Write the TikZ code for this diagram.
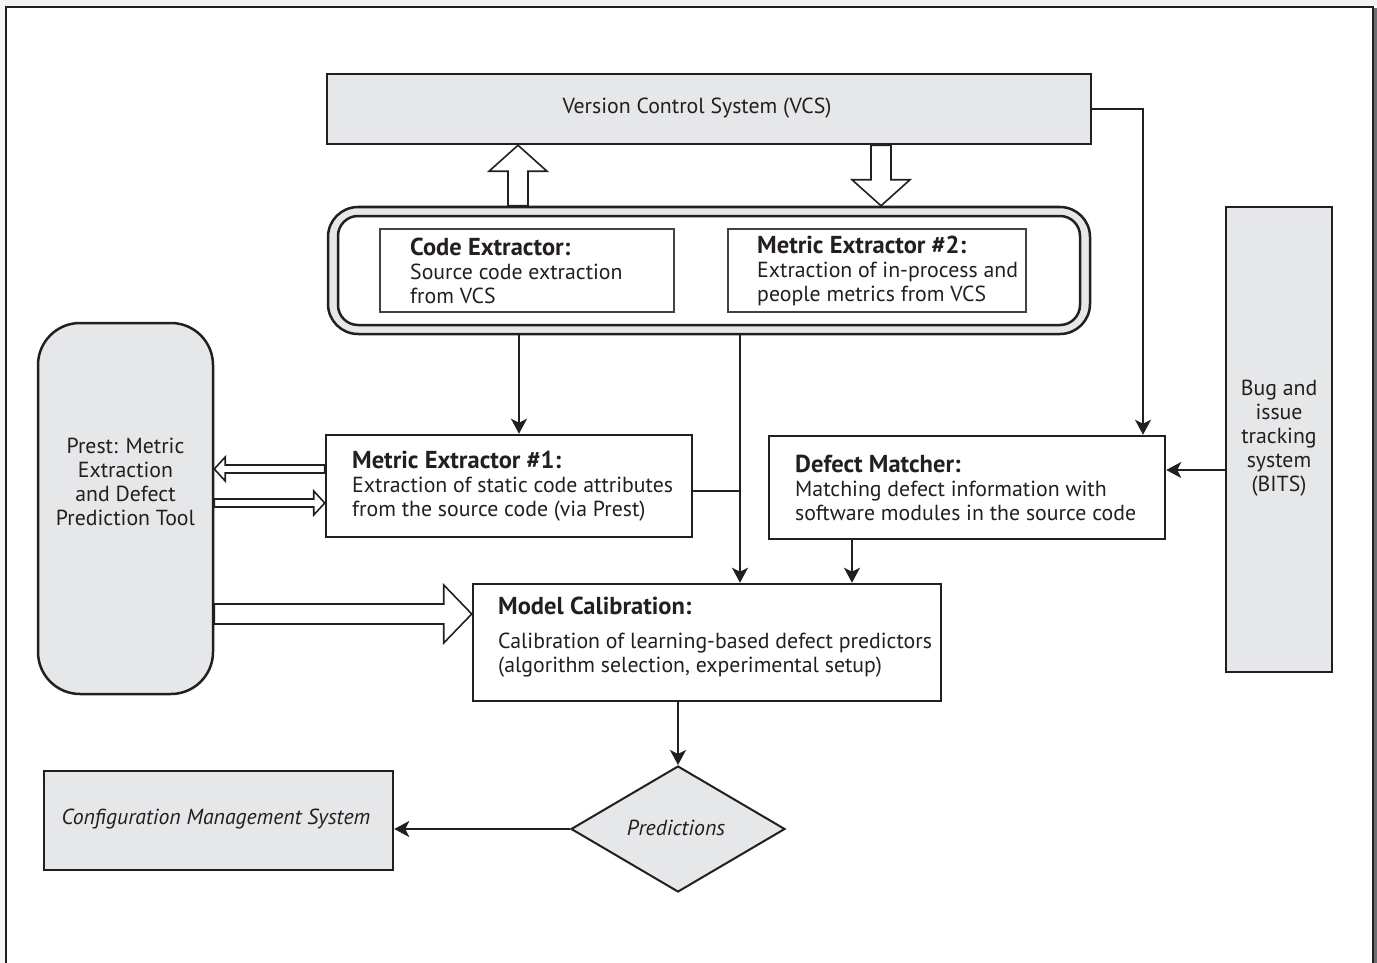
\documentclass[tikz,border=0pt]{standalone}
\usepackage{fontspec}
\setmainfont{PT Sans}
\usetikzlibrary{arrows.meta,shapes.geometric,calc}
\definecolor{ink}{HTML}{231F20}
\definecolor{panel}{HTML}{E6E7E8}
\definecolor{rim}{HTML}{6D6E71}

% hollow block arrow: start, end, shaft half-width, head half-width, head length (pt)
\newcommand\blockarrow[5]{%
  \path let \p1=(#1), \p2=(#2), \n1={atan2(\y2-\y1,\x2-\x1)}, \n2={veclen(\x2-\x1,\y2-\y1)} in
    \pgfextra{\xdef\baang{\n1}\xdef\balen{\n2}\xdef\bax{\x1}\xdef\bay{\y1}};
  \draw[hollow,shift={(\bax,\bay)},rotate=\baang]
    (0pt,#3pt) -- ({(\balen-#5)*1pt},#3pt) -- ({(\balen-#5)*1pt},#4pt) -- ({\balen*1pt},0pt)
    -- ({(\balen-#5)*1pt},-#4pt) -- ({(\balen-#5)*1pt},-#3pt) -- (0pt,-#3pt) -- cycle;
}
% bold box heading
\newcommand\boxhead[1]{{\fontsize{24.5}{24}\selectfont\bfseries #1}}

\begin{document}
\begin{tikzpicture}[x=1pt,y=-1pt,
  font=\fontsize{21.8}{24}\selectfont,
  every node/.style={text=ink},
  link/.style={draw=ink,line width=2pt,-{Stealth[length=15pt,width=16pt,inset=4pt]}},
  plain/.style={draw=ink,line width=2pt},
  grayblock/.style={draw=ink,line width=2.5pt,fill=panel,inner sep=0pt},
  whiteblock/.style={draw=ink,line width=2.5pt,fill=white,inner sep=0pt},
  innerbox/.style={draw=ink!85,line width=1.5pt,fill=white,inner sep=0pt},
  txt/.style={inner sep=0pt,align=left,anchor=west},
  ctxt/.style={inner sep=0pt,align=center},
  hollow/.style={draw=ink,line width=1.6pt,fill=white,line join=miter},
]
\useasboundingbox (0,0) rectangle (1377,963);

% page frame with its shadow
\fill[black!5] (0,0) rectangle (1377,6);
\fill[black!4] (0,0) rectangle (5,963);
\fill[rim] (1374,8) rectangle (1377,963);
\draw[ink,line width=2pt] (6,963) -- (6,7) -- (1373,7) -- (1373,963);

% version control system
\node[grayblock,minimum width=764,minimum height=70] (vcs) at (709,109) {};
\node[ctxt] (vcs-t) at (697,108) {Version Control System (VCS)};

% extractor container
\node[grayblock,rounded corners=30pt,minimum width=762,minimum height=127] (cont) at (709,270.5) {};
\node[whiteblock,rounded corners=20pt,minimum width=742,minimum height=109] (cont-in) at (709,270.5) {};

\node[innerbox,minimum width=294,minimum height=83] (ce) at (527,270.5) {};
\node[txt] (ce-t) at (410,270.5) {\boxhead{Code Extractor:}\\Source code extraction\\from VCS};

\node[innerbox,minimum width=298,minimum height=83] (me2) at (877,270.5) {};
\node[txt] (me2-t) at (757,270.5) {\boxhead{Metric Extractor \#2:}\\Extraction of in-process and\\people metrics from VCS};

% Prest tool
\node[grayblock,rounded corners=42pt,minimum width=175,minimum height=371] (prest) at (125.5,508.5) {};
\node[ctxt] (prest-t) at (125.5,482) {Prest: Metric\\Extraction\\and Defect\\Prediction Tool};

% metric extractor 1
\node[whiteblock,minimum width=366,minimum height=102] (me1) at (509,486) {};
\node[txt] (me1-t) at (352,486) {\boxhead{Metric Extractor \#1:}\\Extraction of static code attributes\\from the source code (via Prest)};

% defect matcher
\node[whiteblock,minimum width=396,minimum height=103] (dm) at (967,487.5) {};
\node[txt] (dm-t) at (795,487.5) {\boxhead{Defect Matcher:}\\Matching defect information with\\software modules in the source code};

% bug and issue tracking system
\node[grayblock,minimum width=106,minimum height=465] (bits) at (1279,439.5) {};
\node[ctxt] (bits-t) at (1279,438) {Bug and\\issue\\tracking\\system\\(BITS)};

% model calibration
\node[whiteblock,minimum width=468,minimum height=117] (mc) at (707,642.5) {};
\node[txt] (mc-t) at (498,637) {\boxhead{Model Calibration:}\\[10pt]Calibration of learning-based defect predictors\\(algorithm selection, experimental setup)};

% predictions and configuration management
\node[diamond,draw=ink,line width=2pt,fill=panel,inner sep=0pt,aspect=1.7,minimum width=214,minimum height=126] (pred) at (678,829) {};
\node[ctxt] (pred-t) at (676,828) {\itshape Predictions};
\node[grayblock,minimum width=349,minimum height=99] (cms) at (218.5,820.5) {};
\node[ctxt] (cms-t) at (216,819.5) {\itshape Configuration Management System};

% column and row helpers for the connectors
\coordinate (upcol) at (518,0);
\coordinate (dncol) at (881,0);
\coordinate (lcol) at (519,0);
\coordinate (mcol) at (740,0);
\coordinate (dmcol) at (1143,0);
\coordinate (dmdown) at (852,0);
\coordinate (joinrow) at (0,491);
\coordinate (bitsrow) at (0,470);
\coordinate (backrow) at (0,469);
\coordinate (fwdrow) at (0,503);
\coordinate (bigrow) at (0,614);

% block arrows
\blockarrow{upcol |- cont.north}{upcol |- vcs.south}{10}{29}{26}
\blockarrow{dncol |- vcs.south}{dncol |- cont.north}{10}{29}{26}
\blockarrow{me1.west |- backrow}{prest.east |- backrow}{4}{12}{11}
\blockarrow{prest.east |- fwdrow}{me1.west |- fwdrow}{4}{12}{11}
\blockarrow{prest.east |- bigrow}{mc.west |- bigrow}{10}{29}{28}

% connectors
\draw[link] (vcs.east) -| (dmcol |- dm.north);
\draw[link] (lcol |- cont.south) -- (lcol |- me1.north);
\draw[link] (mcol |- cont.south) -- (mcol |- mc.north);
\draw[plain] (me1.east |- joinrow) -- (mcol |- joinrow);
\draw[link] (dmdown |- dm.south) -- (dmdown |- mc.north);
\draw[link] (bits.west |- bitsrow) -- (dm.east |- bitsrow);
\draw[link] (mc.south -| pred.north) -- (pred.north);
\draw[link] (pred.west) -- (cms.east |- pred.west);
\end{tikzpicture}
\end{document}
